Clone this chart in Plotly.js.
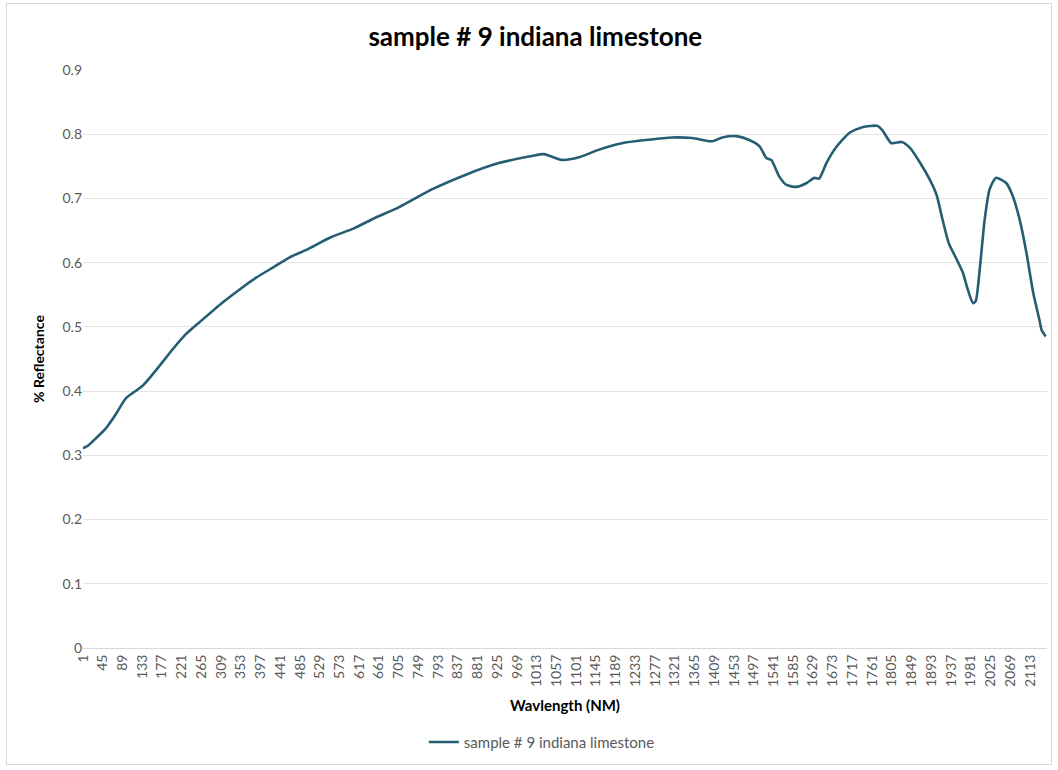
<!DOCTYPE html>
<html>
<head>
<meta charset="utf-8">
<script src="https://cdn.plot.ly/plotly-3.0.1.min.js"></script>
<style>
  html, body { margin: 0; padding: 0; background: #fff; }
  #frame { position: absolute; left: 6px; top: 3px; width: 1046px; height: 762px; border: 1px solid #d9d9d9; box-sizing: border-box; pointer-events: none; }
  #chart { position: absolute; left: 0; top: 0; width: 1058px; height: 770px; }
</style>
</head>
<body>
<div id="chart"></div>
<div id="frame"></div>
<script>
// Category index (wavelength sample number) and reflectance
const wavelength = [1, 12, 23, 52, 75, 97, 135, 169, 202, 231, 262, 307, 352, 388, 426, 464, 499, 555, 604, 653,
  705, 779, 855, 928, 1002, 1029, 1069, 1107, 1152, 1203, 1257, 1315, 1360, 1404, 1427, 1458, 1487, 1510, 1525, 1536,
  1554, 1570, 1592, 1615, 1632, 1643, 1659, 1681, 1710, 1739, 1773, 1784, 1804, 1827, 1845, 1871, 1889, 1905, 1918, 1932,
  1946, 1963, 1974, 1986, 1992, 2001, 2012, 2023, 2037, 2060, 2075, 2090, 2105, 2120, 2135, 2139, 2148];
const reflectance = [0.311, 0.315, 0.322, 0.342, 0.365, 0.389, 0.409, 0.437, 0.466, 0.489, 0.508, 0.535, 0.559, 0.577, 0.593, 0.609, 0.620, 0.640, 0.653, 0.670,
  0.686, 0.714, 0.737, 0.755, 0.766, 0.769, 0.760, 0.764, 0.776, 0.786, 0.791, 0.795, 0.794, 0.789, 0.795, 0.797, 0.791, 0.781, 0.763, 0.760,
  0.734, 0.721, 0.718, 0.724, 0.732, 0.731, 0.755, 0.780, 0.802, 0.811, 0.813, 0.806, 0.786, 0.788, 0.779, 0.752, 0.730, 0.705, 0.667, 0.630,
  0.610, 0.585, 0.559, 0.537, 0.540, 0.590, 0.667, 0.714, 0.732, 0.724, 0.703, 0.667, 0.616, 0.554, 0.508, 0.495, 0.485];
const tickLabels = [1, 45, 89, 133, 177, 221, 265, 309, 353, 397, 441, 485, 529, 573, 617, 661, 705, 749, 793, 837,
  881, 925, 969, 1013, 1057, 1101, 1145, 1189, 1233, 1277, 1321, 1365, 1409, 1453, 1497, 1541, 1585, 1629, 1673, 1717,
  1761, 1805, 1849, 1893, 1937, 1981, 2025, 2069, 2113];
const yTicks = [0, 0.1, 0.2, 0.3, 0.4, 0.5, 0.6, 0.7, 0.8, 0.9];
const seriesName = 'sample # 9 indiana limestone';

const FONT = 'Lato, "Open Sans", sans-serif';

const trace = {
  x: wavelength,
  y: reflectance,
  type: 'scatter',
  mode: 'lines',
  name: seriesName,
  line: { color: '#255E73', width: 2.6, shape: 'spline', smoothing: 0.6 }
};

const layout = {
  width: 1058,
  height: 770,
  paper_bgcolor: '#ffffff',
  plot_bgcolor: '#ffffff',
  margin: { l: 83, r: 11, t: 70, b: 119 },
  font: { family: FONT, color: '#595959', size: 14 },
  title: {
    text: '<b>' + seriesName + '</b>',
    font: { family: FONT, size: 26, color: '#000000' },
    x: 0.506, xanchor: 'center',
    y: 0.952, yanchor: 'middle'
  },
  xaxis: {
    automargin: false,
    range: [1, 2151],
    tickmode: 'array',
    tickvals: tickLabels,
    ticktext: tickLabels.map(String),
    tickangle: -90,
    tickfont: { family: FONT, size: 14, color: '#595959' },
    showgrid: false,
    showline: true,
    linecolor: '#d9d9d9',
    linewidth: 1,
    ticks: '',
    zeroline: false,
    title: { text: '<b>Wavlength (NM)</b>', font: { family: FONT, size: 15, color: '#000000' }, standoff: 14 }
  },
  yaxis: {
    automargin: false,
    range: [0, 0.9],
    tickmode: 'array',
    tickvals: yTicks,
    ticktext: yTicks.map(v => v === 0 ? '0' : v.toFixed(1)),
    tickfont: { family: FONT, size: 14, color: '#595959' },
    showgrid: true,
    gridcolor: '#e3e3e3',
    gridwidth: 1,
    zeroline: false,
    showline: false,
    ticks: '',
    ticklen: 0,
    title: { text: '<b>% Reflectance</b>', font: { family: FONT, size: 14, color: '#000000' }, standoff: 14 }
  },
  showlegend: true,
  legend: {
    orientation: 'h',
    x: 0.476, xanchor: 'center',
    y: -0.163, yanchor: 'middle',
    font: { family: FONT, size: 15, color: '#595959' },
    bgcolor: 'rgba(0,0,0,0)'
  }
};

Plotly.newPlot('chart', [trace], layout, { displayModeBar: false, staticPlot: true });
</script>
</body>
</html>
